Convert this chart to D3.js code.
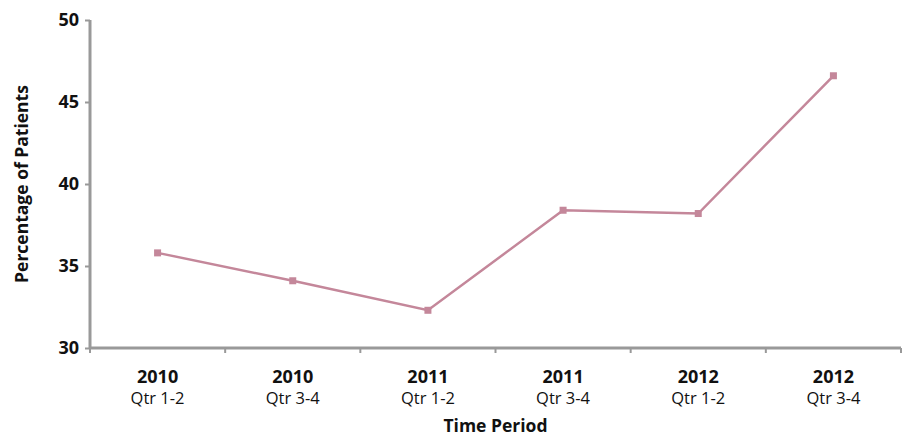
<!DOCTYPE html>
<html>
<head>
<meta charset="utf-8">
<script src="https://cdn.jsdelivr.net/npm/d3@7"></script>
<style>
  body { margin: 0; background: #fff; }
  text { font-family: "Open Sans", "Noto Sans", sans-serif; fill: #111; }
</style>
</head>
<body>
<div id="chart"></div>
<script>
// Data
const years = ['2010', '2010', '2011', '2011', '2012', '2012'];
const quarters = ['Qtr 1-2', 'Qtr 3-4', 'Qtr 1-2', 'Qtr 3-4', 'Qtr 1-2', 'Qtr 3-4'];
const values = [35.8, 34.1, 32.3, 38.4, 38.2, 46.6];
const yTicks = [30, 35, 40, 45, 50];

const width = 903, height = 436;
const margin = { top: 20, right: 2, bottom: 88, left: 90 };
const innerW = width - margin.left - margin.right;
const innerH = height - margin.top - margin.bottom;

const svg = d3.select('#chart')
  .append('svg')
  .attr('width', width)
  .attr('height', height)
  .append('g')
  .attr('transform', `translate(${margin.left},${margin.top})`);

const idx = d3.range(values.length);

// Scales
const xScale = d3.scaleBand()
  .domain(idx)
  .range([0, innerW]);

const yScale = d3.scaleLinear()
  .domain([30, 50])
  .range([innerH, 0]);

const axisColor = '#999';

// Y axis
const yAxis = svg.append('g')
  .call(d3.axisLeft(yScale).tickValues(yTicks).tickSize(5).tickPadding(6));
yAxis.select('.domain').attr('stroke', axisColor).attr('stroke-width', 3).attr('d', `M0,0V${innerH}`);
yAxis.selectAll('.tick line').attr('stroke', axisColor).attr('stroke-width', 2);
yAxis.selectAll('.tick text')
  .style('font-size', '18px')
  .style('font-weight', 'bold')
  .attr('fill', '#111');

// X axis (ticks at category boundaries)
const xAxisG = svg.append('g').attr('transform', `translate(0,${innerH})`);
xAxisG.append('line')
  .attr('x1', 0).attr('x2', innerW)
  .attr('stroke', axisColor).attr('stroke-width', 3);
xAxisG.selectAll('.bound')
  .data(d3.range(values.length + 1))
  .enter()
  .append('line')
  .attr('x1', d => d * xScale.step())
  .attr('x2', d => d * xScale.step())
  .attr('y1', 0).attr('y2', 5)
  .attr('stroke', axisColor).attr('stroke-width', 2);

const cat = xAxisG.selectAll('.cat')
  .data(idx)
  .enter()
  .append('g')
  .attr('transform', d => `translate(${xScale(d) + xScale.bandwidth() / 2},0)`);
cat.append('text')
  .attr('text-anchor', 'middle')
  .attr('y', 35)
  .style('font-size', '18px')
  .style('font-weight', 'bold')
  .text(d => years[d]);
cat.append('text')
  .attr('text-anchor', 'middle')
  .attr('y', 56)
  .style('font-size', '16.5px')
  .text(d => quarters[d]);

// Axis titles
svg.append('text')
  .attr('text-anchor', 'middle')
  .attr('x', innerW / 2)
  .attr('y', innerH + 84)
  .style('font-size', '17.5px')
  .style('font-weight', 'bold')
  .text('Time Period');

svg.append('text')
  .attr('text-anchor', 'middle')
  .attr('transform', 'rotate(-90)')
  .attr('x', -innerH / 2)
  .attr('y', -margin.left + 28)
  .style('font-size', '17.5px')
  .style('font-weight', 'bold')
  .text('Percentage of Patients');

// Line
const lineColor = '#c4879a';
const line = d3.line()
  .x(d => xScale(d) + xScale.bandwidth() / 2)
  .y(d => yScale(values[d]));

svg.append('path')
  .datum(idx)
  .attr('fill', 'none')
  .attr('stroke', lineColor)
  .attr('stroke-width', 2.5)
  .attr('d', line);

svg.selectAll('.marker')
  .data(idx)
  .enter()
  .append('rect')
  .attr('x', d => xScale(d) + xScale.bandwidth() / 2 - 3.5)
  .attr('y', d => yScale(values[d]) - 3.5)
  .attr('width', 7)
  .attr('height', 7)
  .attr('fill', lineColor);
</script>
</body>
</html>
